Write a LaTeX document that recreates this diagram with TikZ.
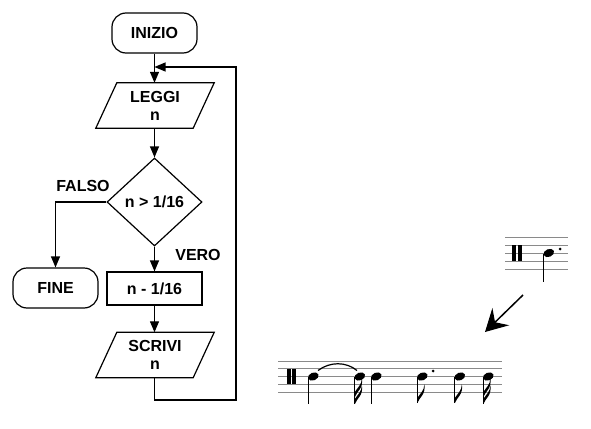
\documentclass[tikz,border=0pt]{standalone}
\usepackage{fontspec}
\setmainfont{Liberation Sans}
\usetikzlibrary{shapes.geometric,arrows.meta}
\definecolor{staffgray}{HTML}{8A8A8A}
\tikzset{
  every node/.style={font=\fontsize{16}{18}\selectfont\bfseries, align=center, inner sep=0pt},
  box/.style={draw, line width=1.2pt},
  term/.style={box, rounded corners=14pt, minimum width=85pt, minimum height=40pt},
  proc/.style={box, minimum width=95pt, minimum height=33pt},
  dec/.style={box, diamond, minimum width=95pt, minimum height=88pt},
  iotext/.style={minimum width=97pt, minimum height=45pt},
  flow/.style={line width=1.2pt, -{Triangle[length=11pt,width=9pt]}},
  plain/.style={line width=1.2pt},
  staffline/.style={staffgray, line width=0.9pt},
  stem/.style={line width=0.9pt},
  bigarrow/.style={line width=1.5pt, -{Stealth[length=22pt,width=24pt,inset=8pt]}}
}
\newcommand{\parabox}[1]{%
  \draw[plain] ([xshift=10.5pt]#1.north west) -- ([xshift=10.5pt]#1.north east)
    -- ([xshift=-10.5pt]#1.south east) -- ([xshift=-10.5pt]#1.south west) -- cycle;}
% note head at (x,y)
\newcommand{\nhead}[2]{\fill[rotate around={22:(#1,#2)}] (#1,#2) ellipse [x radius=5.5pt, y radius=3.9pt];}
% flag for stem-down note: stem x, attach y
\newcommand{\dflag}[2]{\fill (#1,#2) .. controls ({#1+2},{#2-6}) and ({#1+8.5},{#2-8}) .. ({#1+7},{#2-19})
   .. controls ({#1+7},{#2-12}) and ({#1+2},{#2-9}) .. ({#1},{#2-5}) -- cycle;}
\begin{document}
\begin{tikzpicture}[x=1pt,y=-1pt]
\useasboundingbox (0,0) rectangle (591,428);

% ---------- flowchart ----------
\node[term] (inizio) at (154.5,33) {INIZIO};
\node[iotext] (leggi) at (155,105.5) {LEGGI\\n};
\parabox{leggi}
\node[dec] (test) at (154.5,202) {n > 1/16};
\node[term] (fine) at (55.5,288) {FINE};
\node[proc] (calc) at (154.5,288.5) {n - 1/16};
\node[iotext] (scrivi) at (155,355) {SCRIVI\\n};
\parabox{scrivi}
\node (falso) at (83,186) {FALSO};
\node (vero) at (198,255) {VERO};

\coordinate (join) at (154.5,67);
\coordinate (loopbr) at (236,400);

\draw[flow] (inizio.south) -- (inizio.south |- leggi.north);
\draw[flow] (leggi.south -| inizio.south) -- (test.north);
\draw[flow] (test.west) -| (fine.north);
\draw[flow] (test.south) -- (calc.north);
\draw[flow] (calc.south) -- (calc.south |- scrivi.north);
\draw[flow] (scrivi.south -| calc.south) |- (loopbr) |- (join);

% ---------- upper staff ----------
\foreach \y in {237,245,253,261,269} \draw[staffline] (505,\y) -- (568,\y);
\fill (512,245) rectangle (516,261);
\fill (518,245) rectangle (522,261);
\nhead{548.8}{253}
\draw[stem] (543.8,254) -- (543.8,282);
\fill (560,249) circle (1.5pt);

% ---------- arrow ----------
\coordinate (arrs) at (523,295);
\coordinate (arre) at (485,332);
\draw[bigarrow] (arrs) -- (arre);

% ---------- lower staff ----------
\foreach \y in {361,368.75,376.5,384.25,392} \draw[staffline] (278,\y) -- (502,\y);
\fill (286.7,368.75) rectangle (291,384.25);
\fill (292.3,368.75) rectangle (296,384.25);
% note 1 quarter
\nhead{313.3}{376.5}
\draw[stem] (308.4,377) -- (308.4,404);
% tie
\draw[line width=1.2pt] (318,370.5) .. controls (330,361.5) and (346,361.5) .. (357,370.5);
% note 2 sixteenth
\nhead{359.8}{376.5}
\draw[stem] (354.9,377) -- (354.9,404);
\dflag{354.9}{404}
\dflag{354.9}{397}
% note 3 quarter
\nhead{376.3}{376.5}
\draw[stem] (371.4,377) -- (371.4,404);
% note 4 dotted eighth
\nhead{422.3}{376.5}
\draw[stem] (417.4,377) -- (417.4,403);
\dflag{417.4}{403}
\fill (433,371) circle (1.5pt);
% note 5 eighth
\nhead{459.8}{376.5}
\draw[stem] (454.9,377) -- (454.9,403);
\dflag{454.9}{403}
% note 6 sixteenth
\nhead{488.3}{376.5}
\draw[stem] (483.4,377) -- (483.4,404);
\dflag{483.4}{404}
\dflag{483.4}{397}
\end{tikzpicture}
\end{document}
